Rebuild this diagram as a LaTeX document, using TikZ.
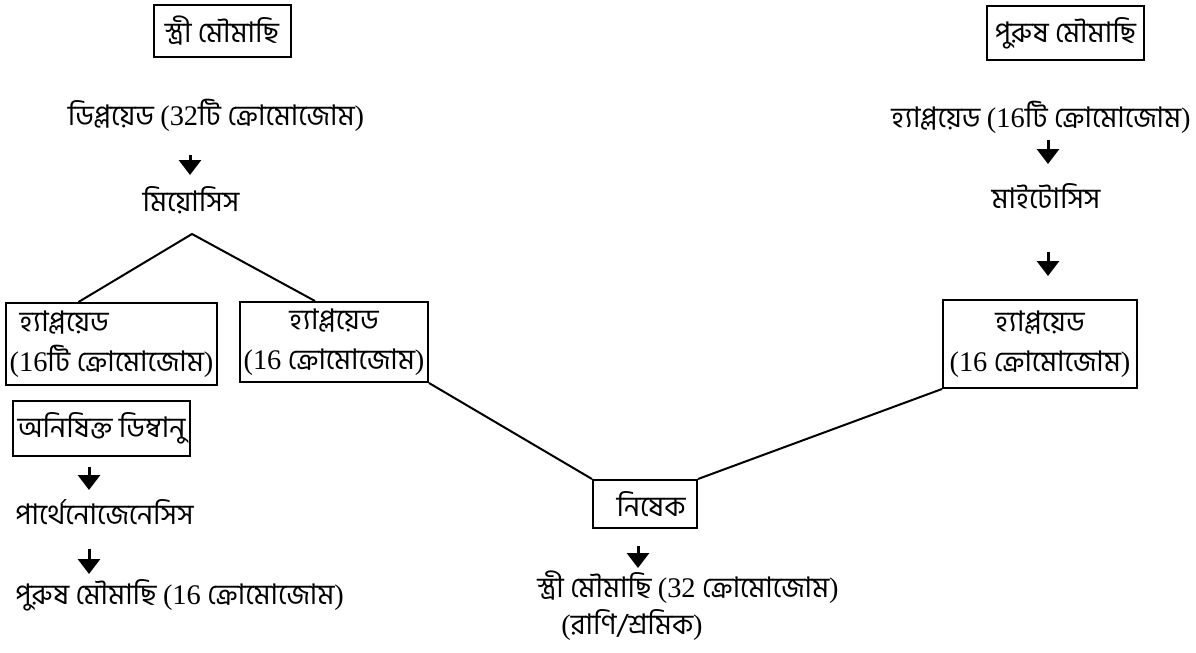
\documentclass[tikz,border=0pt]{standalone}
\usepackage{fontspec}
\setmainfont{Liberation Serif}
\newfontfamily\bn[Script=Bengali]{Hind Siliguri}
\newcommand{\ltn}[1]{{\rmfamily #1}}
\usetikzlibrary{arrows.meta}
\tikzset{
 txt/.style={inner sep=0pt,font=\bn\fontsize{14.2}{20}\selectfont},
 bbox/.style={txt,draw,line width=1pt},
 arr/.style={line width=1.5pt,-{Triangle[width=11pt,length=7.5pt]}},
 leg/.style={line width=1pt}
}
\begin{document}
\begin{tikzpicture}[x=0.5pt,y=-0.5pt]
 \useasboundingbox (0,0) rectangle (1196,653);
 % female side
 \node[bbox,minimum width=68.5pt,minimum height=26pt] (fb) at (222,31) {স্ত্রী মৌমাছি};
 \node[txt] (dip) at (216,115) {ডিপ্লয়েড \ltn{(32}টি ক্রোমোজোম\ltn{)}};
 \node[txt] (mei) at (191,200) {মিয়োসিস};
 \coordinate (apex) at (192,234);
 \node[bbox,align=left,minimum width=105.5pt,minimum height=41pt] (lh) at (111.5,344) {\hspace{5pt}হ্যাপ্লয়েড\\\ltn{(16}টি ক্রোমোজোম\ltn{)}};
 \node[bbox,align=center,minimum width=94pt,minimum height=40pt] (rh) at (334,342) {হ্যাপ্লয়েড\\\ltn{(16} ক্রোমোজোম\ltn{)}};
 \node[bbox,minimum width=88.5pt,minimum height=27.5pt] (unf) at (101.5,428.5) {অনিষিক্ত ডিম্বানু};
 \node[txt,anchor=west] (par) at (15,512) {পার্থেনোজেনেসিস};
 \node[txt,anchor=west] (drone) at (15,595) {পুরুষ মৌমাছি \ltn{(16} ক্রোমোজোম\ltn{)}};
 % male side
 \node[bbox,minimum width=78.5pt,minimum height=27pt] (mb) at (1065.5,33) {পুরুষ মৌমাছি};
 \node[txt] (hap) at (1041,117) {হ্যাপ্লয়েড \ltn{(16}টি ক্রোমোজোম\ltn{)}};
 \node[txt] (mit) at (1046,196) {মাইটোসিস};
 \node[bbox,align=center,minimum width=97pt,minimum height=44pt] (mh) at (1040,344) {হ্যাপ্লয়েড\\\ltn{(16} ক্রোমোজোম\ltn{)}};
 % fertilisation
 \node[bbox,minimum width=52pt,minimum height=24pt] (nis) at (645,504) {\hspace{6pt}নিষেক};
 \node[txt] (queen) at (688,587) {স্ত্রী মৌমাছি \ltn{(32} ক্রোমোজোম\ltn{)}};
 \node[txt] (qw) at (632,625) {\ltn{(}রাণি/শ্রমিক\ltn{)}};
 % arrows
 \coordinate (a1) at (190,155); \coordinate (b1) at (190,175);
 \coordinate (a2) at (89,467);  \coordinate (b2) at (89,490);
 \coordinate (a3) at (89,549);  \coordinate (b3) at (89,574);
 \coordinate (a4) at (638,546); \coordinate (b4) at (638,568);
 \coordinate (a5) at (1048,140); \coordinate (b5) at (1048,164);
 \coordinate (a6) at (1048,252); \coordinate (b6) at (1048,276);
 \foreach \i in {1,...,6} \draw[arr] (a\i) -- (b\i);
 % lines
 \draw[leg] ([xshift=-16.5pt]lh.north) -- (apex) -- ([xshift=-9.5pt]rh.north);
 \draw[leg] (rh.south east) -- (nis.north west);
 \draw[leg] (nis.north east) -- (mh.south west);
\end{tikzpicture}
\end{document}
